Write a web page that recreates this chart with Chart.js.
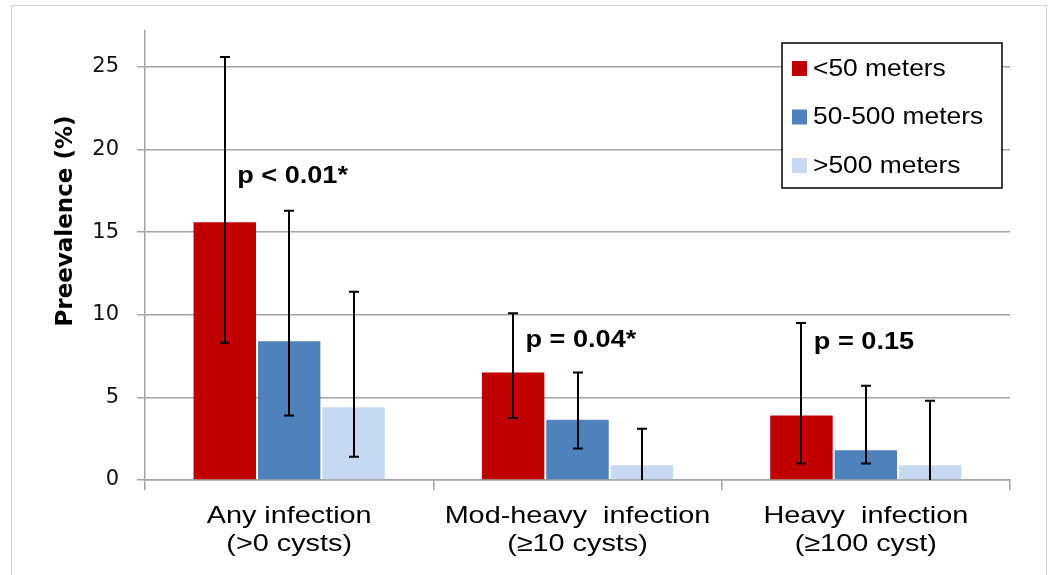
<!DOCTYPE html>
<html>
<head>
<meta charset="utf-8">
<script src="https://cdn.jsdelivr.net/npm/chart.js@4.4.1/dist/chart.umd.min.js"></script>
<style>
  body { margin: 0; background: #fff; }
</style>
</head>
<body>
<canvas id="prevChart" width="1050" height="575"></canvas>
<script>
// data
const categories = [['Any infection', '(>0 cysts)'], ['Mod-heavy  infection', '(≥10 cysts)'], ['Heavy  infection', '(≥100 cyst)']];
const seriesNames = ['<50 meters', '50-500 meters', '>500 meters'];
const near = [15.6, 6.5, 3.9];
const mid = [8.4, 3.65, 1.8];
const far = [4.4, 0.9, 0.9];
const nearLow = [8.3, 3.75, 1.0];
const nearHigh = [25.6, 10.1, 9.5];
const midLow = [3.9, 1.9, 1.0];
const midHigh = [16.3, 6.5, 5.7];
const farLow = [1.4, 0, 0];
const farHigh = [11.4, 3.1, 4.8];
const yTicks = [0, 5, 10, 15, 20, 25];
const pLabels = ['p < 0.01*', 'p = 0.04*', 'p = 0.15'];
const pLevels = [18.35, 8.45, 8.3];

const colors = ['#C00000', '#4F81BD', '#C6D9F1'];
const lows = [nearLow, midLow, farLow];
const highs = [nearHigh, midHigh, farHigh];
const gridColor = '#a3a3a3';

// the original picture is a bit stretched sideways
function wideText(ctx, text, x, y, sx) {
    ctx.save();
    ctx.translate(x, y);
    ctx.scale(sx, 1);
    ctx.fillText(text, 0, 0);
    ctx.restore();
}

let extras = {
    id: 'extras',
    beforeDraw(chart) {
        let ctx = chart.ctx;
        ctx.save();
        ctx.strokeStyle = '#cfcfcf';
        ctx.lineWidth = 1;
        ctx.strokeRect(11.5, 5.5, 1035, 600);
        ctx.restore();
    },
    afterDatasetsDraw(chart) {
        let ctx = chart.ctx;
        let y = chart.scales.y;
        ctx.save();
        ctx.strokeStyle = '#000';
        ctx.lineWidth = 2;
        chart.data.datasets.forEach((ds, i) => {
            let meta = chart.getDatasetMeta(i);
            meta.data.forEach((bar, j) => {
                let x = Math.round(bar.x);
                let top = y.getPixelForValue(highs[i][j]);
                let bot = y.getPixelForValue(lows[i][j]);
                ctx.beginPath();
                ctx.moveTo(x, top);
                ctx.lineTo(x, bot);
                ctx.moveTo(x - 5, top);
                ctx.lineTo(x + 5, top);
                if (lows[i][j] > 0) {
                    ctx.moveTo(x - 5, bot);
                    ctx.lineTo(x + 5, bot);
                }
                ctx.stroke();
            });
        });

        // p-value notes
        ctx.fillStyle = '#000';
        ctx.font = 'bold 24px "Liberation Sans", Arial, sans-serif';
        ctx.textBaseline = 'middle';
        ctx.textAlign = 'left';
        pLabels.forEach((t, j) => {
            let cx = chart.scales.x.getPixelForValue(j);
            wideText(ctx, t, cx - 52, y.getPixelForValue(pLevels[j]), 1.13);
        });
        ctx.restore();
    },
    afterDraw(chart) {
        let ctx = chart.ctx;

        // category labels
        let xs = chart.scales.x;
        ctx.save();
        ctx.font = '24px "Liberation Sans", Arial, sans-serif';
        ctx.fillStyle = '#000';
        ctx.textAlign = 'center';
        ctx.textBaseline = 'alphabetic';
        categories.forEach((lines, j) => {
            let cx = xs.getPixelForValue(j);
            lines.forEach((t, k) => {
                wideText(ctx, t, cx, 523 + k * 28, 1.2);
            });
        });
        ctx.restore();

        ctx.save();
        // y title
        ctx.translate(66, 221);
        ctx.rotate(-Math.PI / 2);
        ctx.font = 'bold 23px "DejaVu Sans", sans-serif';
        ctx.fillStyle = '#000';
        ctx.textAlign = 'center';
        ctx.textBaseline = 'middle';
        ctx.fillText('Preevalence (%)', 0, 0);
        ctx.restore();

        // legend box
        ctx.save();
        ctx.fillStyle = '#fff';
        ctx.fillRect(782, 43, 220, 145);
        ctx.strokeStyle = '#000';
        ctx.lineWidth = 1.5;
        ctx.strokeRect(782, 43, 220, 145);
        ctx.font = '24px "Liberation Sans", Arial, sans-serif';
        ctx.textBaseline = 'middle';
        chart.data.datasets.forEach((ds, i) => {
            let cy = 68 + i * 48.5;
            ctx.fillStyle = ds.backgroundColor;
            ctx.fillRect(792, cy - 7, 15, 15);
            ctx.fillStyle = '#000';
            wideText(ctx, ds.label, 813, cy + 1, 1.1);
        });
        ctx.restore();
    }
};

let ctx = document.getElementById('prevChart').getContext('2d');

let prevChart = new Chart(ctx, {
    type: 'bar',
    data: {
        labels: categories,
        datasets: [
            { label: seriesNames[0], data: near, backgroundColor: colors[0] },
            { label: seriesNames[1], data: mid, backgroundColor: colors[1] },
            { label: seriesNames[2], data: far, backgroundColor: colors[2] }
        ]
    },
    options: {
        responsive: false,
        animation: false,
        barPercentage: 0.97,
        categoryPercentage: 0.67,
        layout: {
            padding: { top: 30, right: 40, left: 0, bottom: 0 }
        },
        scales: {
            x: {
                grid: {
                    offset: true,
                    drawOnChartArea: false,
                    color: gridColor,
                    lineWidth: 1.5,
                    tickLength: 10
                },
                border: { color: gridColor, width: 1.5 },
                ticks: { display: false },
                afterFit(scale) { scale.height = 95; }
            },
            y: {
                min: 0,
                max: 27.2,
                afterBuildTicks(scale) {
                    scale.ticks = yTicks.map(v => ({ value: v }));
                },
                grid: {
                    color: gridColor,
                    lineWidth: 1.5,
                    tickLength: 8
                },
                border: { color: gridColor, width: 1.5 },
                ticks: {
                    color: '#111',
                    padding: 18,
                    font: { family: '"DejaVu Sans", sans-serif', size: 21 }
                },
                afterFit(scale) { scale.width = 145; }
            }
        },
        plugins: {
            legend: { display: false },
            tooltip: { enabled: false }
        }
    },
    plugins: [extras]
});
</script>
</body>
</html>
